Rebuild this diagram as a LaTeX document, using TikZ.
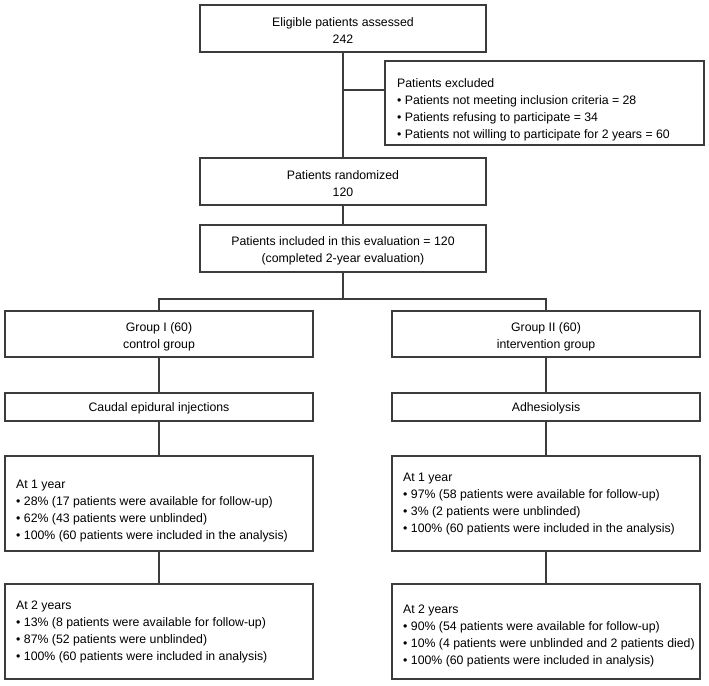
\documentclass[tikz,border=0pt]{standalone}
\usepackage{fontspec}
\setmainfont{Liberation Sans}
\definecolor{ln}{HTML}{3C3C3C}
\begin{document}
\begin{tikzpicture}[x=1pt,y=-1pt,
  box/.style={draw=ln,line width=1.2pt,rectangle,inner sep=0pt},
  txt/.style={inner sep=0pt,align=left,anchor=west,font=\fontsize{12.3}{17}\selectfont},
  ctxt/.style={inner sep=0pt,align=center,font=\fontsize{12.3}{17}\selectfont},
  conn/.style={draw=ln,line width=1.2pt}]
\useasboundingbox[fill=white] (0,0) rectangle (709,685);
% boxes
\node[box,minimum width=286pt,minimum height=47pt] (top) at (343,28.5) {};
\node[box,minimum width=319pt,minimum height=84pt] (excl) at (544.5,103) {};
\node[box,minimum width=286pt,minimum height=47pt] (rand) at (343,181.5) {};
\node[box,minimum width=286pt,minimum height=47pt] (incl) at (343,248.5) {};
\node[box,minimum width=308pt,minimum height=46pt] (g1) at (159,334) {};
\node[box,minimum width=308pt,minimum height=46pt] (g2) at (546,334) {};
\node[box,minimum width=308pt,minimum height=28pt] (cau) at (159,407) {};
\node[box,minimum width=308pt,minimum height=28pt] (adh) at (546,407) {};
\node[box,minimum width=308pt,minimum height=95pt] (yaL) at (159,503.5) {};
\node[box,minimum width=308pt,minimum height=95pt] (yaR) at (546,503.5) {};
\node[box,minimum width=308pt,minimum height=95pt] (ybL) at (159,631.5) {};
\node[box,minimum width=308pt,minimum height=95pt] (ybR) at (546,631.5) {};
% texts
\node[ctxt] (ttop) at (343,31) {Eligible patients assessed\\242};
\node[txt] (texcl) at (397,109.5) {Patients excluded\\
\textbullet\ Patients not meeting inclusion criteria = 28\\
\textbullet\ Patients refusing to participate = 34\\
\textbullet\ Patients not willing to participate for 2 years = 60};
\node[ctxt] (trand) at (343,184) {Patients randomized\\120};
\node[ctxt] (tincl) at (343,251) {Patients included in this evaluation = 120\\(completed 2-year evaluation)};
\node[ctxt] (tg1) at (159,336.5) {Group I (60)\\control group};
\node[ctxt] (tg2) at (546,336.5) {Group II (60)\\intervention group};
\node[ctxt] (tcau) at (159,408) {Caudal epidural injections};
\node[ctxt] (tadh) at (546,408) {Adhesiolysis};
\node[txt] (tyaL) at (16,511) {At 1 year\\
\textbullet\ 28\% (17 patients were available for follow-up)\\
\textbullet\ 62\% (43 patients were unblinded)\\
\textbullet\ 100\% (60 patients were included in the analysis)};
\node[txt] (tyaR) at (403,504) {At 1 year\\
\textbullet\ 97\% (58 patients were available for follow-up)\\
\textbullet\ 3\% (2 patients were unblinded)\\
\textbullet\ 100\% (60 patients were included in the analysis)};
\node[txt] (tybL) at (16,631.5) {At 2 years\\
\textbullet\ 13\% (8 patients were available for follow-up)\\
\textbullet\ 87\% (52 patients were unblinded)\\
\textbullet\ 100\% (60 patients were included in analysis)};
\node[txt] (tybR) at (403,635.5) {At 2 years\\
\textbullet\ 90\% (54 patients were available for follow-up)\\
\textbullet\ 10\% (4 patients were unblinded and 2 patients died)\\
\textbullet\ 100\% (60 patients were included in analysis)};
% connectors
\coordinate (br) at (343,90);
\coordinate (split) at (343,299);
\draw[conn] (top.south) -- (rand.north);
\draw[conn] (br) -- (br -| excl.west);
\draw[conn] (rand.south) -- (incl.north);
\draw[conn] (incl.south) -- (split);
\draw[conn] (g1.north) |- (split) -| (g2.north);
\draw[conn] (g1.south) -- (cau.north);
\draw[conn] (g2.south) -- (adh.north);
\draw[conn] (cau.south) -- (yaL.north);
\draw[conn] (adh.south) -- (yaR.north);
\draw[conn] (yaL.south) -- (ybL.north);
\draw[conn] (yaR.south) -- (ybR.north);
\end{tikzpicture}
\end{document}
